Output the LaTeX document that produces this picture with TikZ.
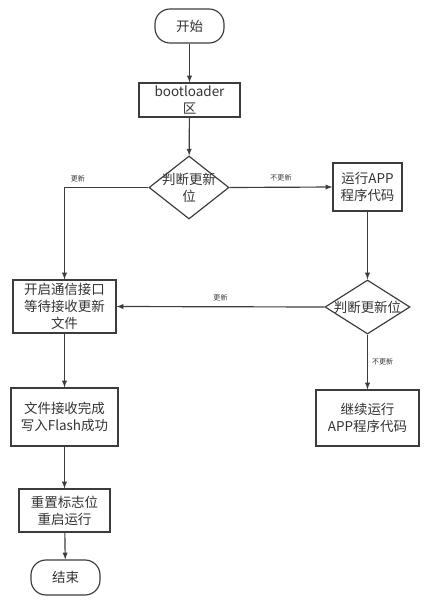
\documentclass[tikz,border=0pt]{standalone}
\usepackage{fontspec}
\setmainfont{Noto Sans CJK SC}
\usetikzlibrary{shapes.geometric}
\definecolor{linegray}{HTML}{3C3C3C}
\definecolor{textgray}{HTML}{333333}
\tikzset{
  txt/.style={text=textgray, align=center, inner sep=0pt,
    font=\fontsize{11.5}{14.5}\selectfont},
  box/.style={txt, draw=linegray, line width=1pt},
  term/.style={box, rounded corners=0.45cm},
  decision/.style={diamond, draw=linegray, line width=1pt, inner sep=0pt},
  lab/.style={text=textgray, inner sep=1.5pt, font=\fontsize{6}{7}\selectfont},
  flow/.style={->, draw=linegray, line width=1pt}
}
\begin{document}
\begin{tikzpicture}[>=latex, x=0.03cm, y=-0.03cm]
  \useasboundingbox (0,0) rectangle (436,605);
  % Hauptpfad
  \node[term, minimum width=2.07cm, minimum height=1.02cm] (start) at (189.5,26) {开始};
  \node[box, minimum width=3.03cm, minimum height=1.02cm] (boot) at (189.5,100) {bootloader\\区};
  \node[decision, minimum width=2.4cm, minimum height=1.89cm] (dec1) at (189,187.5) {};
  \node[txt] (dec1t) at (dec1.center) {判断更新\\位};
  % rechte Seite
  \node[box, minimum width=2.07cm, minimum height=1.44cm] (run) at (367.5,187) {运行APP\\程序代码};
  \node[decision, minimum width=2.55cm, minimum height=1.62cm] (dec2) at (367.5,307) {};
  \node[txt] (dec2t) at (dec2.center) {判断更新位};
  \node[box, minimum width=3.09cm, minimum height=1.68cm] (cont) at (367.5,418) {继续运行\\APP程序代码};
  % linke Seite
  \node[box, minimum width=3.09cm, minimum height=1.59cm] (upd) at (64.5,306.5) {开启通信接口\\等待接收更新\\文件};
  \node[box, minimum width=3.21cm, minimum height=1.74cm] (recv) at (64.5,417) {文件接收完成\\写入Flash成功};
  \node[box, minimum width=2.73cm, minimum height=1.29cm] (reset) at (64.5,510.5) {重置标志位\\重启运行};
  \node[term, minimum width=2.07cm, minimum height=1.05cm] (stop) at (65.5,577.5) {结束};

  % Verbindungen
  \draw[flow] (start) -- (boot);
  \draw[flow] (boot) -- (dec1);
  \draw[flow] (dec1.west) -| node[lab, pos=0.42, above=3pt] {更新} (upd.north);
  \draw[flow] (dec1.east) -- node[lab, midway, above=3pt] {不更新} (run.west);
  \draw[flow] (run) -- (dec2);
  \draw[flow] (dec2.west) -- node[lab, midway, above=3pt] {更新} (upd.east);
  \draw[flow] (dec2.south) -- node[lab, midway, right=2pt] {不更新} (cont.north);
  \draw[flow] (upd) -- (recv);
  \draw[flow] (recv) -- (reset);
  \draw[flow] (reset) -- (stop);
\end{tikzpicture}
\end{document}
